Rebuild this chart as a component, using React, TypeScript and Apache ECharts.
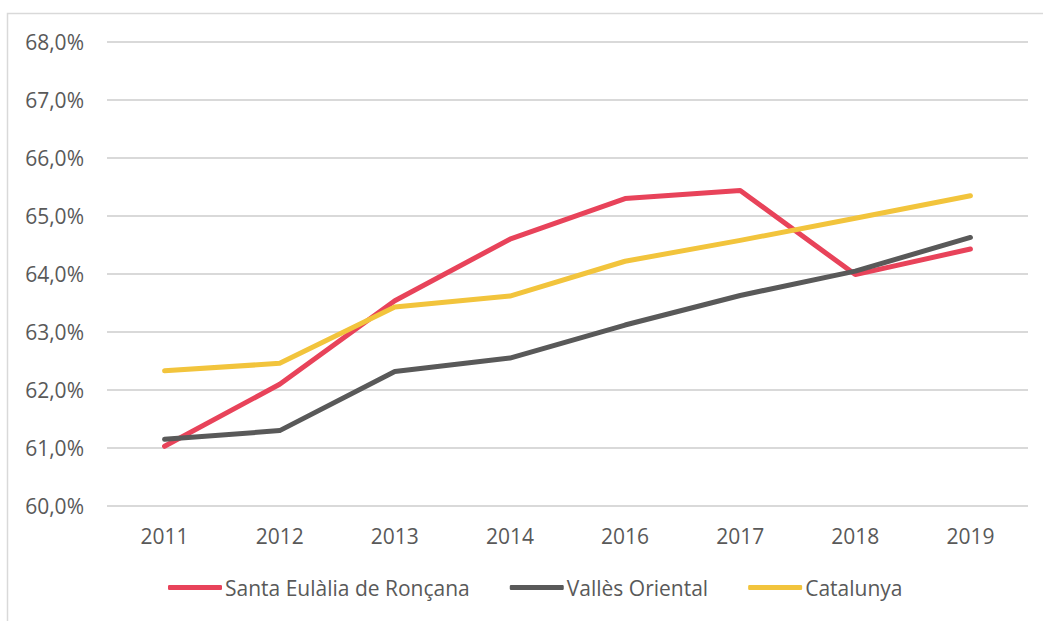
import React, { useEffect, useRef } from "react";
import * as echarts from "echarts";

const years = ["2011", "2012", "2013", "2014", "2016", "2017", "2018", "2019"];
const santaEulalia = [61.03, 62.1, 63.54, 64.6, 65.3, 65.44, 63.99, 64.43];
const vallesOriental = [61.15, 61.3, 62.32, 62.55, 63.12, 63.63, 64.05, 64.63];
const catalunya = [62.33, 62.46, 63.43, 63.62, 64.22, 64.58, 64.96, 65.35];
const seriesNames = ["Santa Eulàlia de Ronçana", "Vallès Oriental", "Catalunya"];
const colors = ["#E8435A", "#595959", "#F2C43C"];

export default function App() {
  const ref = useRef<HTMLDivElement>(null);
  useEffect(() => {
    if (!ref.current) return;
    const chart = echarts.init(ref.current, undefined, { renderer: "svg" });
    const font = "'Open Sans', 'Noto Sans', sans-serif";
    const data = [santaEulalia, vallesOriental, catalunya];
    chart.setOption({
      animation: false,
      backgroundColor: "#ffffff",
      textStyle: { fontFamily: font },
      grid: { left: 107, right: 15, top: 42, bottom: 115 },
      graphic: [
        {
          type: "rect",
          shape: { x: 7.5, y: 13.5, width: 1100, height: 700 },
          style: { fill: "none", stroke: "#d9d9d9", lineWidth: 1.5 },
          silent: true,
          z: -1,
        },
      ],
      legend: {
        bottom: 18,
        left: 163,
        icon: "roundRect",
        itemWidth: 54,
        itemHeight: 5,
        itemGap: 40,
        textStyle: { color: "#595959", fontSize: 21, fontFamily: font, padding: [0, 0, 0, -2] },
        data: seriesNames,
      },
      xAxis: {
        type: "category",
        data: years,
        boundaryGap: true,
        axisLine: { show: false },
        axisTick: { show: false },
        axisLabel: { color: "#595959", fontSize: 21, margin: 19, fontFamily: font },
      },
      yAxis: {
        type: "value",
        min: 60,
        max: 68,
        interval: 1,
        axisLine: { show: false },
        axisTick: { show: false },
        splitLine: { lineStyle: { color: "#d9d9d9", width: 2 } },
        axisLabel: {
          color: "#595959",
          fontSize: 21,
          margin: 23,
          fontFamily: font,
          formatter: (v: number) => v.toFixed(1).replace(".", ",") + "%",
        },
      },
      series: seriesNames.map((name, i) => ({
        name,
        type: "line",
        data: data[i],
        showSymbol: false,
        symbol: "none",
        color: colors[i],
        lineStyle: { color: colors[i], width: 5, cap: "round", join: "round" },
        itemStyle: { color: colors[i] },
      })),
    });
    return () => chart.dispose();
  }, []);
  return (
    <div
      ref={ref}
      style={{ position: "absolute", left: 0, top: 0, width: 1043, height: 621 }}
    />
  );
}
